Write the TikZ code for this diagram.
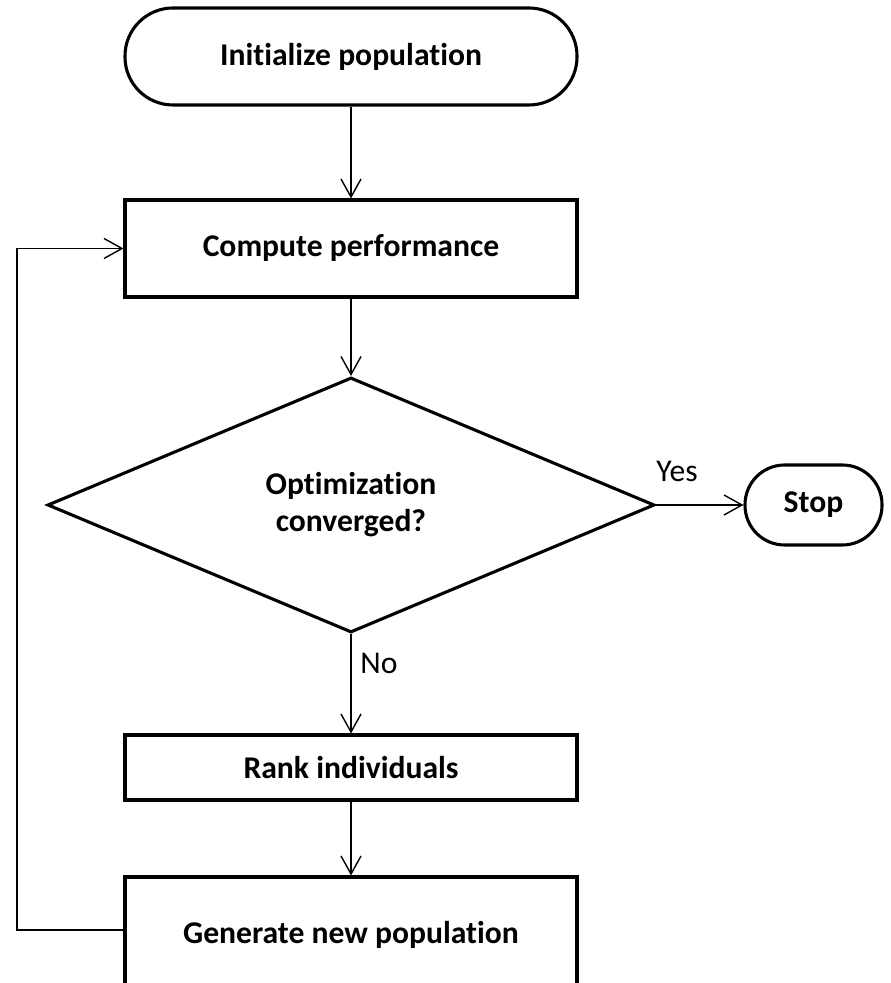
\documentclass[tikz,border=0pt]{standalone}
\usepackage{fontspec}
\setmainfont[Ligatures=NoCommon]{Carlito}
\usetikzlibrary{shapes.geometric,arrows.meta}

\begin{document}
\begin{tikzpicture}[
    font=\fontsize{22.5}{26.3}\selectfont,
    box/.style={draw, line width=2.2pt, minimum width=11.3cm, inner sep=0pt,
                font=\fontsize{22.5}{26.3}\selectfont\bfseries},
    term/.style={box, rounded corners=#1},
    decision/.style={box, diamond, align=center, minimum width=15.175cm, minimum height=6.375cm},
    flow/.style={line width=1pt, -{Straight Barb[length=0.45cm,width=0.5cm]}}
]
    \useasboundingbox (0,0) rectangle (22.25,24.575);

    % Start
    \node[term=1.2cm, minimum height=2.425cm] (init) at (8.775,23.1625) {Initialize population};

    % Evaluation
    \node[box, minimum height=2.425cm] (comp) at (8.775,18.3625) {Compute performance};

    % Convergence test
    \node[decision] (conv) at (8.775,11.95) {Optimization\\converged?};

    % Stop
    \node[term=0.99cm, minimum width=3.425cm, minimum height=2cm] (stop) at (20.3375,11.95) {Stop};

    % Ranking and new generation
    \node[box, minimum height=1.625cm] (rank) at (8.775,5.3875) {Rank individuals};
    \node[box, minimum height=2.9cm] (gen) at (8.775,1.2) {\raisebox{0.125cm}{Generate new population}};

    % Corner of the loop back
    \coordinate (back) at (0.425,1.325);

    % Connectors
    \draw[flow] (init) -- (comp);
    \draw[flow] (comp) -- (conv);
    \draw[flow] (conv) -- node[above=0.45cm, pos=0.24] (yes) {Yes} (stop);
    \draw[flow] (conv) -- node[right=0.1cm, pos=0.3] (no) {No} (rank);
    \draw[flow] (rank) -- (gen);
    \draw[flow] ([yshift=0.125cm]gen.west) -- (back) |- (comp.west);
\end{tikzpicture}
\end{document}
